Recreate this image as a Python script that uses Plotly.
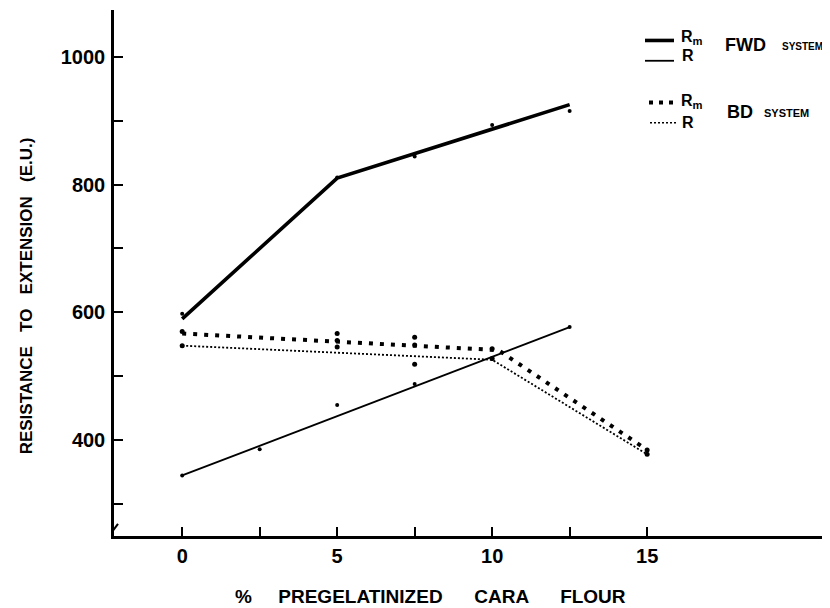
import plotly.graph_objects as go

# ---------------- data ----------------
# FWD system, maximum resistance (Rm)
fwd_rm_pts_x = [0, 5, 7.5, 10, 12.5]
fwd_rm_pts_y = [598, 811, 844, 893, 915]
fwd_rm_line_x = [0, 5, 12.5]
fwd_rm_line_y = [590, 810, 925]

# FWD system, resistance (R)
fwd_r_pts_x = [0, 2.5, 5, 7.5, 10, 12.5]
fwd_r_pts_y = [345, 386, 455, 488, 527, 577]
fwd_r_line_x = [0, 12.5]
fwd_r_line_y = [345, 577]

# BD system
bd_rm_line_x = [0, 10.2, 15]
bd_rm_line_y = [567, 541, 385]
bd_r_line_x = [0, 10, 15]
bd_r_line_y = [548, 526, 378]
bd_pts_x = [0, 0, 5, 5, 5, 7.5, 7.5, 7.5, 10, 10, 15, 15]
bd_pts_y = [570, 548, 567, 556, 546, 561, 549, 519, 543, 528, 385, 378]

x_major_ticks = [0, 5, 10, 15]
x_minor_ticks = [2.5, 7.5, 12.5]
y_major_ticks = [400, 600, 800, 1000]
y_minor_ticks = [300, 500, 700, 900]

FONT = "Liberation Sans, Arial, sans-serif"

# ---------------- layout geometry ----------------
# the page body has an 8px default margin, so the figure is drawn 8px in
# from the window's top-left corner; size it to fill the rest of the window
OFF = 8
W, H = 830 - OFF, 608 - OFF
PLOT_L, PLOT_R, PLOT_T, PLOT_B = 114, 830, 10, 528      # window pixels
ML, MR, MT, MB = PLOT_L - OFF, 830 - PLOT_R, PLOT_T - OFF, 608 - PLOT_B - OFF
PW, PH = PLOT_R - PLOT_L, PLOT_B - PLOT_T


def px(xp):
    return (xp - PLOT_L) / PW


def py(yp):
    return 1 - (yp - PLOT_T) / PH


fig = go.Figure()

fig.add_trace(go.Scatter(x=fwd_rm_line_x, y=fwd_rm_line_y, mode="lines",
                         line=dict(color="black", width=3.6), name="Rm FWD"))
fig.add_trace(go.Scatter(x=fwd_rm_pts_x, y=fwd_rm_pts_y, mode="markers",
                         marker=dict(color="black", size=4), name="Rm FWD data"))
fig.add_trace(go.Scatter(x=fwd_r_line_x, y=fwd_r_line_y, mode="lines",
                         line=dict(color="black", width=1.8), name="R FWD"))
fig.add_trace(go.Scatter(x=fwd_r_pts_x, y=fwd_r_pts_y, mode="markers",
                         marker=dict(color="black", size=4), name="R FWD data"))
fig.add_trace(go.Scatter(x=bd_rm_line_x, y=bd_rm_line_y, mode="lines",
                         line=dict(color="black", width=4, dash="4px,7px"), name="Rm BD"))
fig.add_trace(go.Scatter(x=bd_r_line_x, y=bd_r_line_y, mode="lines",
                         line=dict(color="black", width=1.8, dash="2px,2px"), name="R BD"))
fig.add_trace(go.Scatter(x=bd_pts_x, y=bd_pts_y, mode="markers",
                         marker=dict(color="black", size=5), name="BD data"))

shapes = []
# legend samples
shapes.append(dict(type="line", xref="paper", yref="paper",
                   x0=px(645), x1=px(674), y0=py(40), y1=py(40),
                   line=dict(color="black", width=3.6)))
shapes.append(dict(type="line", xref="paper", yref="paper",
                   x0=px(645), x1=px(674), y0=py(60), y1=py(60),
                   line=dict(color="black", width=1.8)))
shapes.append(dict(type="line", xref="paper", yref="paper",
                   x0=px(649), x1=px(677), y0=py(101), y1=py(101),
                   line=dict(color="black", width=4, dash="4px,6px")))
shapes.append(dict(type="line", xref="paper", yref="paper",
                   x0=px(650), x1=px(676), y0=py(121), y1=py(121),
                   line=dict(color="black", width=1.6, dash="2px,2px")))
# axis break mark
shapes.append(dict(type="line", xref="paper", yref="paper",
                   x0=px(112), x1=px(118), y0=py(524), y1=py(516),
                   line=dict(color="black", width=2)))

annotations = []


def ann(text, xc, yc, size, xanchor="center"):
    annotations.append(dict(text=text, x=px(xc), y=py(yc), xref="paper", yref="paper",
                            showarrow=False, xanchor=xanchor, yanchor="middle",
                            font=dict(family=FONT, size=size, color="black", weight="bold")))


ann("R<sub>m</sub>", 679, 37, 16, "left")
ann("R", 680, 55, 16, "left")
ann("FWD", 745, 44, 18)
ann("SYSTEM", 802, 46, 10)
ann("R<sub>m</sub>", 679, 100, 16, "left")
ann("R", 680, 121, 16, "left")
ann("BD", 740, 110, 18)
ann("SYSTEM", 786, 111, 11)

# axis titles
annotations.append(dict(text="%     PREGELATINIZED      CARA      FLOUR", x=px(430), y=py(588),
                        xref="paper", yref="paper", showarrow=False,
                        xanchor="center", yanchor="middle",
                        font=dict(family=FONT, size=19, color="black", weight="bold")))
annotations.append(dict(text="RESISTANCE   TO   EXTENSION   (E.U.)", x=px(26), y=py(292),
                        xref="paper", yref="paper", showarrow=False, textangle=-90,
                        xanchor="center", yanchor="middle",
                        font=dict(family=FONT, size=17, color="black", weight="bold")))

tick_style = dict(ticks="inside", ticklen=9, tickwidth=2, tickcolor="black")

fig.update_layout(
    width=W, height=H,
    margin=dict(l=ML, r=MR, t=MT, b=MB, pad=0),
    paper_bgcolor="white", plot_bgcolor="white",
    showlegend=False,
    shapes=shapes,
    annotations=annotations,
    xaxis=dict(range=[-2.2, 20.9], tickmode="array", tickvals=x_major_ticks,
               ticktext=[str(v) for v in x_major_ticks],
               minor=dict(tickvals=x_minor_ticks, showgrid=False, **tick_style),
               showline=True, linecolor="black", linewidth=3,
               showgrid=False, zeroline=False, ticklabelstandoff=0,
               tickfont=dict(family=FONT, size=20, color="black", weight="bold"),
               **tick_style),
    yaxis=dict(range=[250.3, 1073], tickmode="array", tickvals=y_major_ticks,
               ticktext=[str(v) for v in y_major_ticks],
               minor=dict(tickvals=y_minor_ticks, showgrid=False, **tick_style),
               showline=True, linecolor="black", linewidth=2.5,
               showgrid=False, zeroline=False, ticklabelstandoff=2,
               tickfont=dict(family=FONT, size=20, color="black", weight="bold"),
               **tick_style),
)

fig.write_html("out.html")
